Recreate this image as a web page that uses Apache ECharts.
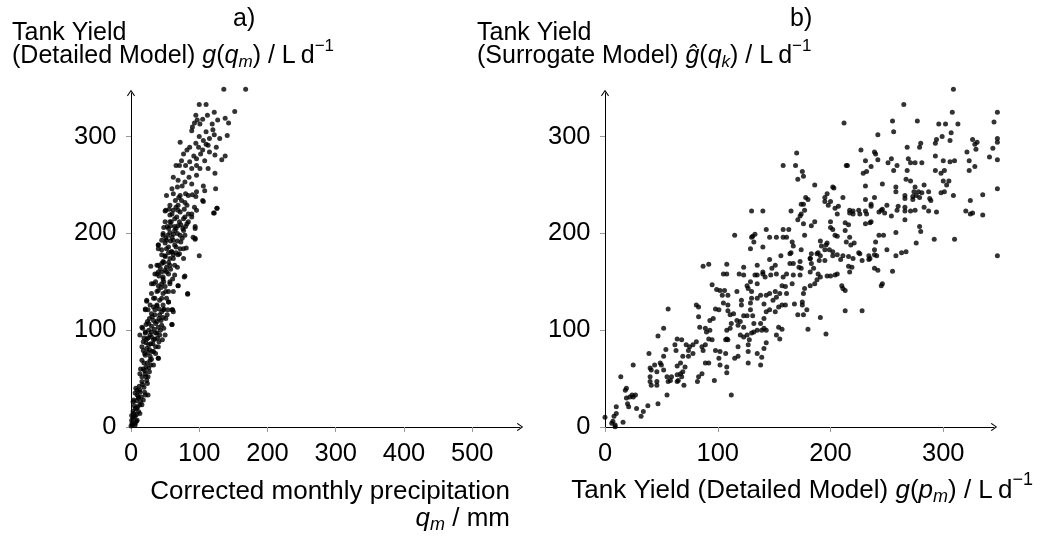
<!DOCTYPE html>
<html>
<head>
<meta charset="utf-8">
<script src="https://cdn.jsdelivr.net/npm/echarts@6/dist/echarts.min.js"></script>
<style>html,body{margin:0;padding:0;background:#fff}#c{width:1043px;height:538px}</style>
</head>
<body>
<div id="c"></div>
<script>
// ---- data ----
const panelAXTicks = [0, 100, 200, 300, 400, 500];
const panelAYTicks = [0, 100, 200, 300];
const panelBXTicks = [0, 100, 200, 300];
const panelBYTicks = [0, 100, 200, 300];

// a) corrected monthly precipitation (mm) vs tank yield, detailed model (L/d)
const panelAPoints = [
[136,349],[168,349],[100,333],[110,333],[152,326],[122,325],[95,322],[97,317],[93,314],[127,317],[138,319],[143,314],[119,313],[110,305],[122,302],[130,298],[141,301],[89,306],[90,310],[101,313],[106,296],[95,293],[86,289],[72,294],[82,286],[99,289],[113,291],[125,289],[115,284],[105,286],[123,281],[138,280],[133,276],[96,277],[108,275],[86,274],[77,282],[74,275],[71,270],[89,267],[101,267],[113,267],[96,270],[66,270],[62,258],[76,263],[123,262],[69,255],[79,253],[89,251],[106,249],[96,243],[108,244],[124,246],[68,248],[62,241],[52,239],[72,239],[84,239],[95,238],[105,234],[65,234],[74,234],[57,229],[69,229],[82,229],[126,226],[122,221],[51,224],[62,224],[72,222],[84,220],[57,219],[67,217],[79,217],[89,217],[50,212],[59,212],[71,212],[82,210],[94,207],[53,207],[64,207],[76,205],[57,201],[68,200],[79,198],[47,200],[91,196],[51,195],[62,193],[73,191],[94,194],[40,188],[55,186],[66,186],[77,184],[45,183],[59,181],[71,179],[100,177],[50,176],[62,174],
[45,169],[57,167],[68,165],[29,166],[38,167],[40,160],[52,160],[79,156],[47,155],[61,153],[33,148],[45,148],[57,148],[69,146],[83,138],[40,141],[51,140],[62,140],[23,131],[35,133],[45,133],[55,129],[28,126],[38,125],[48,122],[61,121],[21,121],[30,117],[42,116],[51,112],[33,110],[24,109],[60,106],[40,103],[48,102],[16,103],[21,98],[30,98],[38,97],[13,95],[25,92],[35,91],[18,88],[29,86],[40,83],[23,81],[33,78],[20,76],[28,73],[40,71],[16,69],[24,66],[33,64],[18,60],[27,57],[13,55],[22,52],[16,47],[24,45],[7,40],[13,38],[20,36],[6,35],[25,33],[11,31],[18,28],[3,26],[13,23],[8,19],[3,16],[13,14],[6,11],[1,7],[8,6],[2,2],[6,4],
[126,226],[121,221],[106,233],[93,227],[96,224],[89,220],[79,232],[69,224],[60,220],[50,223],[64,215],[77,215],[84,212],[57,212],[69,208],[55,205],[64,203],[77,203],[94,205],[47,198],[60,196],[72,198],[94,195],[52,193],[40,188],[40,184],[52,184],[64,188],[72,184],[81,185],[60,181],[50,177],[57,174],[69,178],[77,174],[47,171],[40,167],[52,165],[64,167],[45,160],[55,158],[38,158],[64,157],[78,155],[47,153],[57,150],[30,148],[40,146],[50,145],[69,146],[38,140],[47,138],[55,140],[83,137],[33,133],[42,131],[52,133],[38,126],[47,126],[55,129],[23,130],[25,121],[35,121],[45,119],[54,121],[62,119],
[21,122],[33,124],[41,122],[48,121],[60,121],[53,116],[60,106],[41,112],[31,114],[26,107],[36,107],[45,105],[17,102],[21,97],[28,95],[36,97],[43,100],[50,95],[23,91],[33,90],[41,88],[16,83],[26,85],[36,83],[31,78],[40,71],[21,74],[28,69],[19,66],[26,61],[21,55],[16,52],[23,48],[9,38],[13,36],[21,33],[11,30],[16,23],[6,19],[11,16],[4,11],[9,7],[1.5,4],[6,2],
[27,112],[35,116],[44,110],[30,104],[38,109],[47,113],[22,106],[34,101],[42,95],[26,100],[19,92],[30,93],[39,92],[46,90],[22,87],[32,86],[27,80],[36,76],[18,79],[25,77],[30,70],[22,62],[29,64],[14,60],[20,58],[25,52],[17,44],[12,42],[19,41],[9,33],[15,31],[8,27],[14,26],[5,22],[10,21],[4,14],[8,13],[3,9],[0,1],[1,12],[4,28],
[30,138],[44,144],[36,150],[48,150],[41,156],[50,162],[43,164],[58,163],[48,170],[55,170],[35,158],[62,178],[55,180],[45,178],[66,180],[50,190],[58,192],[68,192],[45,193],[62,199],[54,198],[75,195],[66,205],[58,208],[48,206],[73,209],[80,207],
[56,225],[66,227],[78,225],[70,237],[80,241],[90,240],[60,246],[75,249],[85,258],[96,260],[80,270],[92,280],[102,282],[110,292],[100,300],[115,298],[120,307],[105,318],[112,322]
];

// b) tank yield detailed model g(p_m) vs surrogate model (L/d)
const panelBPoints = [
[309,349],[265,333],[212,314],[255,316],[277,316],[308,325],[348,325],[345,315],[296,313],[302,313],[313,313],[256,305],[242,302],[307,304],[299,300],[306,296],[294,297],[293,293],[280,293],[326,297],[330,294],[328,292],[329,287],[348,298],[348,294],[344,288],[321,284],[341,279],[348,276],[279,289],[268,289],[227,286],[239,284],[240,282],[170,283],[158,270],[169,270],[175,264],[176,259],[171,256],[214,270],[215,270],[231,275],[242,276],[251,273],[254,277],[259,270],[269,277],[271,273],[275,273],[281,273],[300,275],[306,274],[310,275],[323,275],[323,265],[328,269],[293,280],[293,265],[298,262],[301,265],[236,269],[229,262],[232,264],[256,265],[268,265],[267,256],[271,254],[283,250],[275,248],[246,251],[231,249],[258,248],[258,243],[274,243],[278,243],[281,242],[287,243],[300,254],[305,254],[303,250],[301,243],[298,242],[309,239],[335,240],[348,246],[324,234],[266,239],[266,236],[273,238],[276,239],[279,237],[273,235],[288,236],[289,234],[283,227],[294,222],[320,223],[324,220],[326,221],[335,219],[287,223],[275,224],[271,223],[266,227],[266,223],[259,224],[260,228],[250,229],[245,224],[239,237],[231,235],[236,230],[236,228],[231,223],[232,220],[246,225],[243,222],[248,221],[254,218],[266,214],[279,207],[280,202],[276,190],[292,194],[310,194],[348,177],[267,181],[263,180],[258,201],[258,177],[247,198],[243,198],[240,191],[236,212],[235,211],[239,183],[231,210],[226,220],[225,224],[220,223],[217,224],[217,221],[220,220],[211,237],[202,248],[203,247],[197,241],[200,233],[207,228],[204,226],[195,237],[195,233],[198,229],[206,220],[186,250],[178,237],[180,235],[176,230],[174,230],[177,224],[174,220],[173,218],[171,214],[176,210],[183,208],[186,212],[165,223],[140,223],[130,223],[213,211],[216,209],[200,212],[200,206],[202,204],[204,198],[206,197],[213,203],[217,196],[214,191],[218,188],[221,190],[225,180],[226,179],[234,177],[235,174],[239,178],[250,183],[241,177],[216,176],[211,177],[206,178],[202,177],[202,181],[199,183],[196,188],[195,183],[197,190],[191,192],[192,187],[189,180],[188,179],[191,177],[183,179],[182,174],[177,198],[174,183],[167,187],[165,180],[164,179],[166,191],[161,196],[158,204],[163,204],[158,196],[152,196],[146,196],[143,204],[140,186],[131,197],[133,199],[129,184],[132,191],[130,196],[115,198],[156,177],[146,173],
[255,161],[239,164],[242,162],[245,146],[246,148],[234,173],[228,172],[220,174],[219,165],[217,160],[216,166],[209,173],[206,158],[204,157],[200,156],[197,156],[210,146],[211,143],[213,141],[213,120],[228,120],[196,96],[191,113],[195,172],[190,172],[182,174],[183,169],[185,164],[182,160],[189,158],[191,155],[188,152],[186,148],[182,146],[177,143],[176,138],[173,157],[174,164],[172,165],[173,171],[167,169],[164,169],[167,157],[166,148],[161,158],[158,155],[157,146],[160,145],[161,138],[155,138],[152,134],[151,140],[146,138],[157,126],[154,124],[160,126],[168,127],[175,126],[175,129],[179,121],[171,116],[176,116],[180,101],[157,101],[154,103],[155,91],[152,95],[151,119],[149,131],[143,136],[138,136],[135,133],[141,127],[146,121],[143,119],[141,112],[138,107],[141,102],[143,100],[139,100],[135,100],[132,98],[130,97],[143,87],[141,81],[139,72],[138,64],[135,76],[127,66],[127,85],[128,90],[132,107],[131,115],[129,121],[129,128],[130,133],[130,140],[127,143],[126,146],[135,148],[129,150],[135,157],[140,158],[142,155],[147,157],[148,164],[151,167],[152,158],[140,160],[135,167],[133,157],[123,165],[123,157],[119,158],[117,140],[121,131],[121,126],[123,115],[126,115],[120,109],[117,110],[118,105],[123,103],[126,95],[123,93],[120,95],[118,83],[118,73],[115,71],[127,78],[114,117],[111,116],[112,107],[111,102],[108,100],[108,91],[109,90],[107,90],[109,120],[109,126],[105,128],[104,136],[109,136],[106,141],[102,141],[99,142],[95,147],[108,158],[105,158],[108,168],[92,168],[87,166],[98,122],[101,121],[96,112],[93,110],[89,102],[90,98],[93,100],[84,103],[81,126],[83,124],[83,114],[95,90],[92,91],[89,85],[86,83],[87,79],[98,79],[102,78],[107,76],[101,71],[102,64],[108,62],[108,56],[89,66],[92,66],[86,55],[83,52],[82,47],[97,48],[112,33],[81,88],[78,85],[75,83],[74,79],[72,85],[68,90],[64,91],[62,85],[78,76],[74,73],[69,73],[67,66],[71,62],[69,57],[67,55],[64,54],[68,52],[59,52],[58,48],[55,52],[56,47],[65,48],[64,47],[70,43],[64,63],[63,79],[54,80],[52,73],[50,64],[49,66],[52,59],[46,57],[44,64],[40,61],[41,59],[40,52],[40,47],[41,43],[46,47],[46,43],[55,33],[47,94],[52,102],[56,122],[47,24],[39,76],[38,22],[34,16],[32,11],[28,19],[25,64],[25,31],[24,33],[27,33],[22,31],[21,21],[20,24],[19,30],[18,38],[19,40],[14,52],[10,21],[10,14],[8,11],[6,4],[7,6],[9,2],[16,5],[0,10],[9,0.3]
];

// ---- styling ----
const FONT = '"Liberation Sans", Arial, Helvetica, sans-serif';
const TICK_FS = 25.5;
const LBL_FS = 26;
const TTL_FS = 25;
const ARROW = 'path://M5,0 L10,7 L9,8 L5,2 L1,8 L0,7 Z';

function makeRich(fs, sfs) {
  return {
    n:   {fontFamily: FONT, fontSize: fs, lineHeight: 28, fill: '#000'},
    i:   {fontFamily: FONT, fontSize: fs, lineHeight: 28, fontStyle: 'italic', fill: '#000'},
    sub: {fontFamily: FONT, fontSize: sfs, lineHeight: 28, fontStyle: 'italic', padding: [12, 0, 0, 0], fill: '#000'},
    sup: {fontFamily: FONT, fontSize: sfs, lineHeight: 28, padding: [0, 0, 21, 0], fill: '#000'}
  };
}
const richLbl = makeRich(LBL_FS, 18);
const richTtl = makeRich(TTL_FS, 17);

function txt(x, y, text, align, rich, fs) {
  return {
    type: 'text', silent: true,
    style: {x: x, y: y, text: text, align: align || 'left', verticalAlign: 'middle',
      fontFamily: FONT, fontSize: fs, lineHeight: 28, fill: '#000', rich: rich}
  };
}

function mainX(grid, max, ticks) {
  return {
    type: 'value', gridIndex: grid, min: 0, max: max,
    axisLine: {show: true, lineStyle: {color: '#000', width: 1}, symbol: ['none', ARROW], symbolSize: [8, 7]},
    axisTick: {show: true, inside: false, length: 5, customValues: ticks, lineStyle: {color: '#999'}},
    axisLabel: {show: true, customValues: ticks, margin: 14, color: '#000', fontFamily: FONT, fontSize: TICK_FS},
    splitLine: {show: false}
  };
}
function innerX(grid, max, ticks) {
  return {
    type: 'value', gridIndex: grid, min: 0, max: max,
    axisLine: {show: false},
    axisTick: {show: true, inside: true, length: 5, customValues: ticks, lineStyle: {color: '#999'}},
    axisLabel: {show: false}, splitLine: {show: false}
  };
}
function mainY(grid, max, ticks) {
  const a = mainX(grid, max, ticks);
  a.axisLabel.margin = 14.5;
  return a;
}

const option = {
  animation: false,
  backgroundColor: '#fff',
  grid: [
    {left: 131, top: 93, width: 389, height: 334},
    {left: 605, top: 93, width: 389, height: 334}
  ],
  xAxis: [
    mainX(0, 570, panelAXTicks), innerX(0, 570, panelAXTicks),
    mainX(1, 345, panelBXTicks), innerX(1, 345, panelBXTicks)
  ],
  yAxis: [
    mainY(0, 345, panelAYTicks), innerX(0, 345, panelAYTicks),
    mainY(1, 345, panelBYTicks), innerX(1, 345, panelBYTicks)
  ],
  series: [
    {type: 'scatter', xAxisIndex: 0, yAxisIndex: 0, data: panelAPoints, symbolSize: 5, clip: false,
     itemStyle: {color: '#000'}, silent: true},
    {type: 'scatter', xAxisIndex: 2, yAxisIndex: 2, data: panelBPoints, symbolSize: 5, clip: false,
     itemStyle: {color: '#000'}, silent: true}
  ],
  graphic: [
    txt(12, 32.7, '{n|Tank Yield}', 'left', richTtl, TTL_FS),
    txt(12, 56.5, '{n|(Detailed Model) }{i|g}{n|(}{i|q}{sub|m}{n|) / L\u2009d}{sup|\u22121}', 'left', richTtl, TTL_FS),
    txt(233, 19, '{n|a)}', 'left', richTtl, TTL_FS),
    txt(477, 32.7, '{n|Tank Yield}', 'left', richTtl, TTL_FS),
    txt(477, 56.5, '{n|(Surrogate Model) }{i|\u011D}{n|(}{i|q}{sub|k}{n|) / L\u2009d}{sup|\u22121}', 'left', richTtl, TTL_FS),
    txt(790, 19, '{n|b)}', 'left', richTtl, TTL_FS),
    txt(510, 492, '{n|Corrected monthly precipitation}', 'right', richLbl, LBL_FS),
    txt(510, 519, '{i|q}{sub|m}{n| / mm}', 'right', richLbl, LBL_FS),
    txt(1033, 491, '{n|Tank Yield (Detailed Model) }{i|g}{n|(}{i|p}{sub|m}{n|) / L\u2009d}{sup|\u22121}', 'right', richLbl, LBL_FS)
  ]
};

const chart = echarts.init(document.getElementById('c'), null, {renderer: 'canvas'});
chart.setOption(option);
</script>
</body>
</html>
